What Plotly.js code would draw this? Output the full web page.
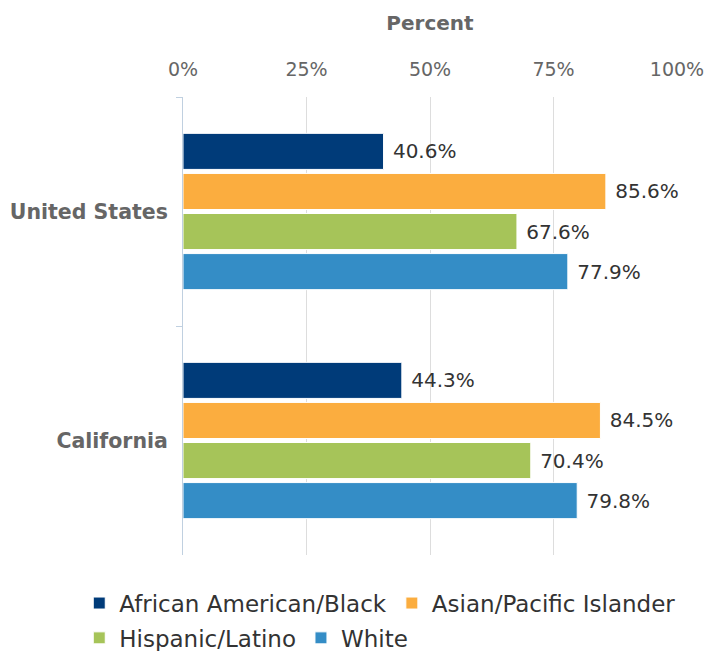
<!DOCTYPE html>
<html>
<head>
<meta charset="utf-8">
<script src="https://cdn.plot.ly/plotly-3.0.1.min.js"></script>
<style>html,body{margin:0;padding:0;background:#fff;}#chart{width:710px;height:651px;}</style>
</head>
<body>
<div id="chart"></div>
<script>
const categories = ["United States", "California"];
const seriesNames = ["African American/Black", "Asian/Pacific Islander", "Hispanic/Latino", "White"];
const africanAmerican = [40.6, 44.3];
const asianPacific = [85.6, 84.5];
const hispanicLatino = [67.6, 70.4];
const white = [77.9, 79.8];
const tickVals = [0, 25, 50, 75, 100];
const tickLabels = ["0%", "25%", "50%", "75%", "100%"];
const colors = ["#003b79", "#fbad3f", "#a6c459", "#348dc6"];
const legendRows = ["legend", "legend", "legend2", "legend2"];

const values = [africanAmerican, asianPacific, hispanicLatino, white];
const FONT = "DejaVu Sans, sans-serif";

const traces = values.map((v, i) => ({
  type: "bar",
  orientation: "h",
  name: seriesNames[i],
  legend: legendRows[i],
  y: categories,
  x: v,
  marker: {color: colors[i], line: {color: "#ffffff", width: 1}},
  text: v.map(d => "\u00a0" + d.toFixed(1) + "%"),
  textposition: "outside",
  textfont: {family: FONT, size: 20, color: "#333333"},
  cliponaxis: false,
  hoverinfo: "x+name"
}));

const legendBase = {
  orientation: "h",
  x: -0.21,
  xanchor: "left",
  yanchor: "middle",
  font: {family: FONT, size: 23, color: "#333333"},
  traceorder: "normal",
  itemwidth: 30
};

const layout = {
  width: 710,
  height: 651,
  margin: {l: 183, r: 33, t: 97, b: 96, autoexpand: false},
  paper_bgcolor: "#ffffff",
  plot_bgcolor: "#ffffff",
  barmode: "group",
  bargap: 0.30,
  bargroupgap: 0.1,
  font: {family: FONT, color: "#666666"},
  xaxis: {
    side: "top",
    range: [0, 100],
    tickvals: tickVals,
    ticktext: tickLabels,
    tickfont: {family: FONT, size: 19, color: "#666666"},
    ticklabelstandoff: 16,
    showgrid: true,
    gridcolor: "#dddddd",
    gridwidth: 1,
    zeroline: false,
    showline: false,
    ticks: "",
    automargin: false,
    title: {text: "Percent", font: {family: FONT, size: 20, color: "#666666", weight: "bold"}, standoff: 22}
  },
  yaxis: {
    type: "category",
    autorange: "reversed",
    showline: true,
    linecolor: "#c0d0e0",
    linewidth: 1,
    ticks: "outside",
    tickson: "boundaries",
    ticklen: 6,
    tickcolor: "#c0d0e0",
    showgrid: false,
    automargin: false,
    tickfont: {family: FONT, size: 20.5, color: "#666666", weight: "bold"},
    ticklabelstandoff: 10
  },
  legend: Object.assign({}, legendBase, {y: -0.105}),
  legend2: Object.assign({}, legendBase, {y: -0.181}),
  showlegend: true
};

Plotly.newPlot("chart", traces, layout, {displayModeBar: false, staticPlot: true});
</script>
</body>
</html>
